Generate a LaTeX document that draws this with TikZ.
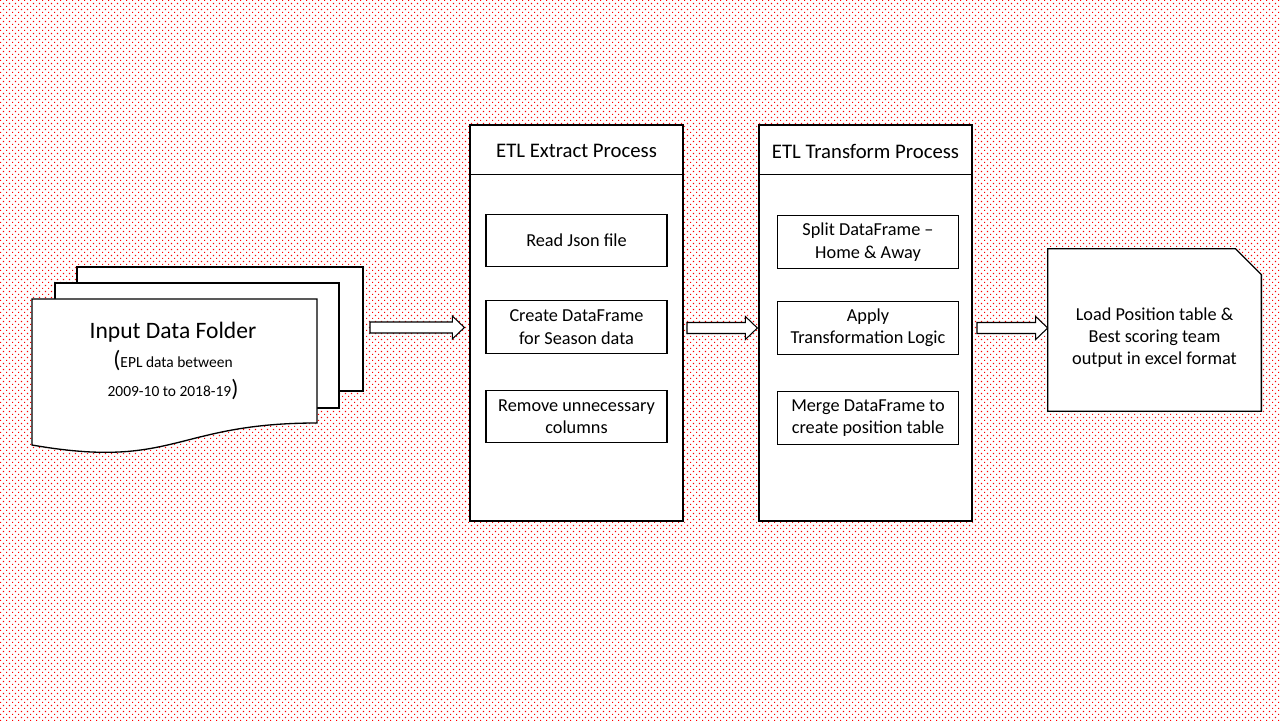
\documentclass[tikz,border=0pt]{standalone}
\usepackage{fontspec}
\setmainfont{Carlito}
\usetikzlibrary{calc,patterns.meta}

\tikzdeclarepattern{
  name=reddots,
  type=uncolored,
  bounding box={(0,0) and (0.12cm,0.12cm)},
  tile size={(0.12cm,0.12cm)},
  code={
    \fill (0,0) rectangle (0.022cm,0.022cm);
    \fill (0.06cm,0.06cm) rectangle (0.082cm,0.082cm);
  }
}

\tikzset{
  stage/.style={draw, fill=white, line width=0.75pt, minimum width=4.26cm, minimum height=7.92cm, inner sep=0pt},
  task/.style={draw, fill=white, line width=0.75pt, minimum width=3.62cm, minimum height=1.05cm, inner sep=0pt,
    align=center, font=\fontsize{10.4}{12.7}\selectfont},
  headtext/.style={inner sep=0pt, font=\fontsize{11.8}{14}\selectfont},
  sheet/.style={draw, fill=white, line width=0.75pt},
  fat/.style={draw, fill=white, line width=0.6pt, line join=miter},
}

\newcommand{\fatarrow}[2]{%
  \draw[fat] ($(#1)+(0,5.5)$) -- ($(#2)+(-12,5.5)$) -- ($(#2)+(-12,11.5)$) -- (#2)
    -- ($(#2)+(-12,-11.5)$) -- ($(#2)+(-12,-5.5)$) -- ($(#1)+(0,-5.5)$) -- cycle;%
}

\begin{document}
\begin{tikzpicture}[x=0.02cm,y=0.02cm]
  \useasboundingbox (0,0) rectangle (1280,720);

  % Drawing background
  \fill[white] (0,0) rectangle (1280,720);%
  \fill[pattern=reddots, pattern color=red] (0,0) rectangle (1280,720);%

  % Drawing input sheets
  \node[sheet, minimum width=5.72cm, minimum height=2.48cm, inner sep=0pt] (sheetback) at (220,391) {};%
  \node[sheet, minimum width=5.68cm, minimum height=2.5cm, inner sep=0pt] (sheetmid) at (197,374.5) {};%
  \draw[sheet] (32,421) -- (317,421) -- (317,297)
    .. controls (174.5,297) and (174.5,250) .. (32,275) -- cycle;%

  % Marking input text
  \node[align=center, inner sep=0pt, font=\fontsize{13.4}{16.5}\selectfont] (inputtext) at (173,359)
    {Input Data Folder\\
     ({\fontsize{8.8}{16.5}\selectfont EPL data between}\\
     {\fontsize{8.8}{16.5}\selectfont 2009-10 to 2018-19})};%

  % Drawing box extract
  \node[stage] (extract) at (576.5,397) {};%
  \draw[line width=0.75pt] ($(extract.north west)+(0,-50)$) -- ($(extract.north east)+(0,-50)$);%
  \node[headtext] (extracthead) at (576.5,569) {ETL Extract Process};%
  \node[task] (readjson) at (576.5,479.5) {Read Json file};%
  \node[task] (createdf) at (576.5,393) {Create DataFrame\\for Season data};%
  \node[task] (removecol) at (576.5,303.5) {Remove unnecessary\\columns};%

  % Drawing box transform
  \node[stage] (transform) at (865.5,397) {};%
  \draw[line width=0.75pt] ($(transform.north west)+(0,-50)$) -- ($(transform.north east)+(0,-50)$);%
  \node[headtext] (transformhead) at (865.5,569) {ETL Transform Process};%
  \node[task] (splitdf) at (868,478) {Split DataFrame --\\Home \& Away};%
  \node[task] (applylogic) at (868,392) {Apply\\Transformation Logic};%
  \node[task] (mergedf) at (868,302) {Merge DataFrame to\\create position table};%

  % Drawing box output
  \node[minimum width=4.26cm, minimum height=3.24cm, inner sep=0pt] (output) at (1154.5,390) {};%
  \draw[sheet] (output.south west) -- (output.north west) -- ($(output.north east)+(-26,0)$)
    -- ($(output.north east)+(0,-26)$) -- (output.south east) -- cycle;%
  \node[align=center, inner sep=0pt, font=\fontsize{10.4}{12.7}\selectfont] (outtext) at (1154.5,382.5)
    {Load Position table \&\\Best scoring team\\output in excel format};%

  % Drawing arrows
  \coordinate (a1tail) at (370,392.5);%
  \coordinate (a1tip) at ($(extract.west |- a1tail)+(-5,0)$);%
  \coordinate (a2tail) at (687,392);%
  \coordinate (a2tip) at ($(transform.west |- a2tail)+(-1,0)$);%
  \coordinate (a3tail) at (977,392);%
  \coordinate (a3tip) at (output.west |- a3tail);%
  \fatarrow{a1tail}{a1tip}
  \fatarrow{a2tail}{a2tip}
  \fatarrow{a3tail}{a3tip}
\end{tikzpicture}
\end{document}
